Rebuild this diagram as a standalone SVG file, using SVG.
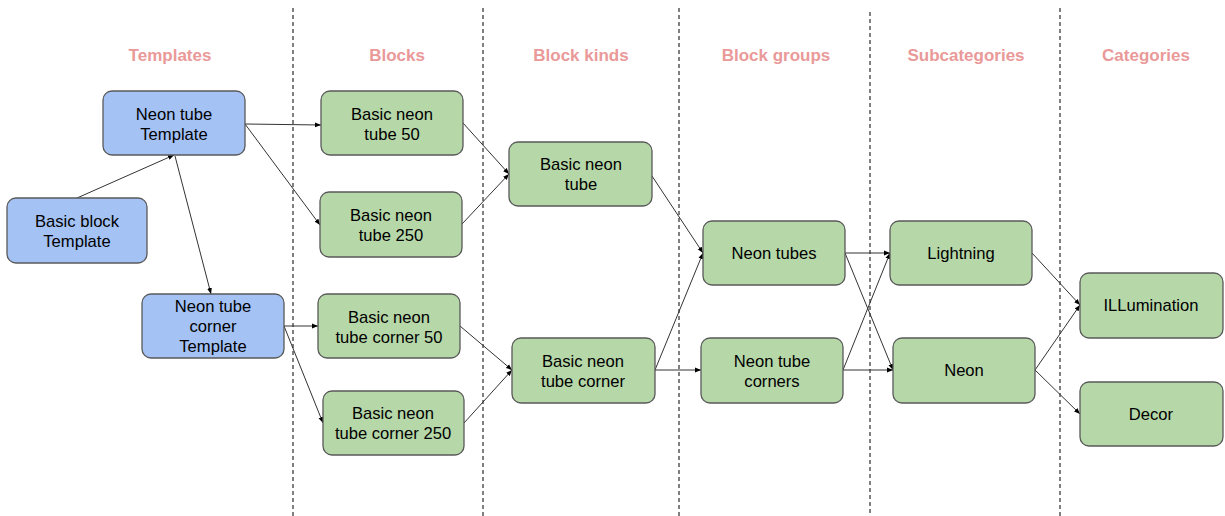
<svg xmlns="http://www.w3.org/2000/svg" width="1225" height="516" viewBox="0 0 1225 516">
<style>
.blue{fill:#a4c2f4;stroke:#595959;stroke-width:1.3}
.green{fill:#b6d7a8;stroke:#595959;stroke-width:1.3}
.t{font-family:"Liberation Sans",Arial,sans-serif;font-size:16.6px;fill:#000;text-anchor:middle}
.h{font-family:"Liberation Sans",Arial,sans-serif;font-size:17px;font-weight:bold;fill:#ea9999;text-anchor:middle}
.div{stroke:#000;stroke-width:1;stroke-dasharray:4,3}
.c line{stroke:#333;stroke-width:1;marker-end:url(#ah)}
</style>
<defs>
<marker id="ah" viewBox="0 0 10 10" refX="10" refY="5" markerWidth="6" markerHeight="6" markerUnits="userSpaceOnUse" orient="auto">
<path d="M0,1 L10,5 L0,9 z" fill="#000"/>
</marker>
</defs>
<rect width="1225" height="516" fill="#fff"/>
<g id="dividers">
<line class="div" x1="293" y1="8" x2="293" y2="516"/>
<line class="div" x1="483" y1="8" x2="483" y2="516"/>
<line class="div" x1="679" y1="8" x2="679" y2="516"/>
<line class="div" x1="870" y1="12" x2="870" y2="516"/>
<line class="div" x1="1060" y1="8" x2="1060" y2="516"/>
</g>
<g id="headers">
<text class="h" x="170" y="61">Templates</text>
<text class="h" x="397" y="61">Blocks</text>
<text class="h" x="581" y="61">Block kinds</text>
<text class="h" x="776" y="61">Block groups</text>
<text class="h" x="966" y="61">Subcategories</text>
<text class="h" x="1146" y="61">Categories</text>
</g>
<g id="connectors" class="c">
<line x1="77" y1="198" x2="174" y2="155"/>
<line x1="175" y1="156" x2="211" y2="294"/>
<line x1="245" y1="124" x2="321" y2="125"/>
<line x1="245" y1="124" x2="320" y2="225"/>
<line x1="284" y1="326" x2="318" y2="326"/>
<line x1="284" y1="326" x2="323" y2="423"/>
<line x1="463" y1="123" x2="509" y2="174"/>
<line x1="462" y1="224" x2="509" y2="174"/>
<line x1="460" y1="326" x2="512" y2="370"/>
<line x1="464" y1="423" x2="512" y2="370"/>
<line x1="652" y1="176" x2="703" y2="253"/>
<line x1="655" y1="370" x2="703" y2="253"/>
<line x1="655" y1="370" x2="701" y2="370"/>
<line x1="845" y1="253" x2="890" y2="253"/>
<line x1="845" y1="253" x2="893" y2="370"/>
<line x1="843" y1="370" x2="890" y2="253"/>
<line x1="843" y1="370" x2="893" y2="370"/>
<line x1="1032" y1="253" x2="1080" y2="305"/>
<line x1="1035" y1="370" x2="1080" y2="305"/>
<line x1="1035" y1="370" x2="1080" y2="414"/>
</g>
<g id="n-neon-tube-template"><rect class="blue" x="103" y="91" width="142" height="64" rx="9"/><text class="t" x="174" y="120">Neon tube</text><text class="t" x="174" y="140">Template</text></g>
<g id="n-basic-block-template"><rect class="blue" x="7" y="198" width="140" height="65" rx="9"/><text class="t" x="77" y="227">Basic block</text><text class="t" x="77" y="247">Template</text></g>
<g id="n-neon-tube-corner-template"><rect class="blue" x="142" y="294" width="142" height="64" rx="9"/><text class="t" x="213" y="312">Neon tube</text><text class="t" x="213" y="332">corner</text><text class="t" x="213" y="352">Template</text></g>
<g id="n-bnt50"><rect class="green" x="321" y="91" width="142" height="64" rx="9"/><text class="t" x="392" y="120">Basic neon</text><text class="t" x="392" y="140">tube 50</text></g>
<g id="n-bnt250"><rect class="green" x="320" y="192" width="142" height="65" rx="9"/><text class="t" x="391" y="221">Basic neon</text><text class="t" x="391" y="241">tube 250</text></g>
<g id="n-bntc50"><rect class="green" x="318" y="294" width="142" height="64" rx="9"/><text class="t" x="389" y="323">Basic neon</text><text class="t" x="389" y="343">tube corner 50</text></g>
<g id="n-bntc250"><rect class="green" x="323" y="391" width="141" height="64" rx="9"/><text class="t" x="393" y="419">Basic neon</text><text class="t" x="393" y="439">tube corner 250</text></g>
<g id="n-bnt"><rect class="green" x="509" y="142" width="143" height="64" rx="9"/><text class="t" x="581" y="170">Basic neon</text><text class="t" x="581" y="190">tube</text></g>
<g id="n-bntc"><rect class="green" x="512" y="338" width="143" height="65" rx="9"/><text class="t" x="583" y="367">Basic neon</text><text class="t" x="583" y="387">tube corner</text></g>
<g id="n-neon-tubes"><rect class="green" x="703" y="221" width="142" height="64" rx="9"/><text class="t" x="774" y="259">Neon tubes</text></g>
<g id="n-neon-tube-corners"><rect class="green" x="701" y="338" width="142" height="65" rx="9"/><text class="t" x="772" y="367">Neon tube</text><text class="t" x="772" y="387">corners</text></g>
<g id="n-lightning"><rect class="green" x="890" y="221" width="142" height="64" rx="9"/><text class="t" x="961" y="259">Lightning</text></g>
<g id="n-neon"><rect class="green" x="893" y="338" width="142" height="65" rx="9"/><text class="t" x="964" y="376">Neon</text></g>
<g id="n-illumination"><rect class="green" x="1080" y="273" width="143" height="65" rx="9"/><text class="t" x="1151" y="311">ILLumination</text></g>
<g id="n-decor"><rect class="green" x="1080" y="382" width="143" height="64" rx="9"/><text class="t" x="1151" y="420">Decor</text></g>
</svg>
